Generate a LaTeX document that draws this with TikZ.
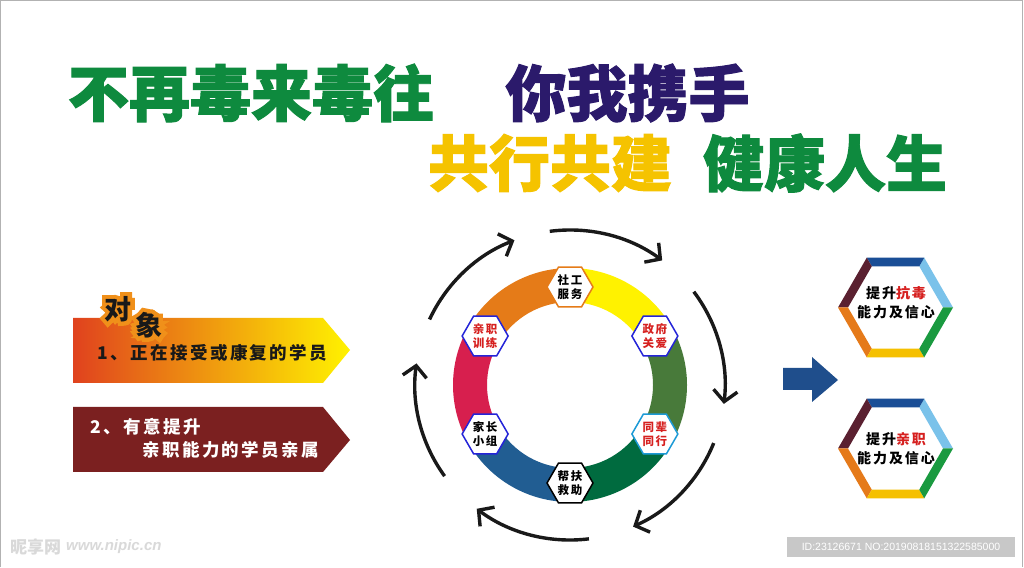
\documentclass[tikz,border=0pt]{standalone}
\usepackage{fontspec}
\setmainfont{Liberation Sans}
\newfontfamily\cjk{Noto Sans CJK SC}
\newfontfamily\cjkt{Noto Sans CJK SC}[BoldFeatures={FakeBold=1.6}]
\newfontfamily\cjkglow{Noto Sans CJK SC}[BoldFeatures={FakeBold=30}]
\newfontfamily\cjkls{Noto Sans CJK SC}[LetterSpace=14]
\usetikzlibrary{arrows.meta,shapes.geometric,calc}
\definecolor{tgreen}{HTML}{0E8A3E}
\definecolor{tpurple}{HTML}{2B1A6B}
\definecolor{tyellow}{HTML}{F5C300}
\definecolor{ryellow}{HTML}{FFF200}
\definecolor{rgreenA}{HTML}{487A3A}
\definecolor{rgreenB}{HTML}{006B3F}
\definecolor{rblue}{HTML}{215D92}
\definecolor{rred}{HTML}{D71F4E}
\definecolor{rorange}{HTML}{E57B18}
\definecolor{hblue}{HTML}{2424D8}
\definecolor{hlblue}{HTML}{1C9AD6}
\definecolor{tred}{HTML}{D6201F}
\definecolor{hnavy}{HTML}{1A4E96}
\definecolor{hsky}{HTML}{7AC2EA}
\definecolor{hgreen}{HTML}{1A9A40}
\definecolor{hyel}{HTML}{F5C000}
\definecolor{hora}{HTML}{E57A1A}
\definecolor{hmar}{HTML}{5A2030}
\definecolor{barrow}{HTML}{1F4E8C}
\definecolor{bred}{HTML}{7B2020}
\definecolor{glow}{HTML}{F0901A}
\definecolor{bleft}{HTML}{E0421E}
\definecolor{bmid}{HTML}{F0A018}
\definecolor{idgray}{HTML}{C8C8C8}
\tikzset{
  title/.style={inner sep=0pt, font=\cjkt\bfseries\fontsize{61}{63}\selectfont},
  hexr/.style={regular polygon, regular polygon sides=6, minimum size=46pt, inner sep=0pt, fill=white, line width=1.5pt},
  hext/.style={inner sep=0pt, align=center, font=\cjkls\bfseries\fontsize{11.5}{13.5}\selectfont},
  rtext/.style={inner sep=0pt, align=center, font=\cjkls\bfseries\fontsize{14}{19}\selectfont},
  btext/.style={inner sep=0pt, anchor=west, font=\cjkls\bfseries\fontsize{17.5}{20}\selectfont},
  cyc/.style={line width=3.4pt, black!90, -{Straight Barb[length=11pt,width=24pt]}},
  dx/.style={inner sep=0pt, font=\cjk\bfseries\fontsize{27}{27}\selectfont},
  dxglow/.style={inner sep=0pt, text=glow, font=\cjkglow\bfseries\fontsize{27}{27}\selectfont}
}
\begin{document}
\begin{tikzpicture}[x=1pt,y=1pt]
\useasboundingbox (0,0) rectangle (1024,567);
\fill[white] (0,0) rectangle (1024,567);
\draw[gray!60, line width=1pt] (0.5,0) -- (0.5,566.5) -- (1022,566.5) -- (1022,0);

% titles
\node[title, text=tgreen] (t1) at (251,474) {不再毒来毒往};
\node[title, text=tpurple] (t2) at (627.5,474) {你我携手};
\node[title, text=tyellow] (t3) at (550,404) {共行共建};
\node[title, text=tgreen] (t4) at (825,404) {健康人生};

% left banners
\shade[left color=bleft, middle color=bmid, right color=ryellow]
  (73,249) -- (323,249) -- (350,217) -- (323,184) -- (73,184) -- cycle;
\fill[bred] (73,160) -- (323,160) -- (350,127) -- (323,95) -- (73,95) -- cycle;
\node[dxglow] (duig) at (118,258) {对};
\node[dxglow] (xiangg) at (149,242) {象};
\node[dx, text=black!90] (dui) at (118,258) {对};
\node[dx, text=black!90] (xiang) at (149,242) {象};
\node[btext, text=black!90] (b1) at (97,214) {1、正在接受或康复的学员};
\node[btext, text=white] (b2) at (90,140) {2、有意提升};
\node[btext, text=white] (b3) at (142,117) {亲职能力的学员亲属};

% ring
\coordinate (rc) at (570,182);
\foreach \a/\b/\c in {90/30/ryellow, 30/-30/rgreenA, -30/-90/rgreenB, -90/-150/rblue, -150/-210/rred, 150/90/rorange}
  \fill[\c] ([shift={(rc)}]\a:117) arc[start angle=\a, end angle=\b, radius=117]
     -- ([shift={(rc)}]\b:83) arc[start angle=\b, end angle=\a, radius=83] -- cycle;
\foreach \s in {97.5,37,-22,-83,-144,-205}
  \draw[cyc] ([shift={(rc)}]\s:155) arc[start angle=\s, end angle={\s-44}, radius=155];

\node[hexr, draw=rorange] (sg) at ([shift={(rc)}]90:98) {};
\node[hexr, draw=hblue] (zf) at ([shift={(rc)}]30:98) {};
\node[hexr, draw=hlblue] (tb) at ([shift={(rc)}]-30:98) {};
\node[hexr, draw=black] (bf) at ([shift={(rc)}]-90:98) {};
\node[hexr, draw=hblue] (jz) at ([shift={(rc)}]-150:98) {};
\node[hexr, draw=hblue] (qz) at ([shift={(rc)}]150:98) {};
\node[hext, text=black] at (sg) {社工\\服务};
\node[hext, text=tred] at (zf) {政府\\关爱};
\node[hext, text=tred] at (tb) {同辈\\同行};
\node[hext, text=black] at (bf) {帮扶\\救助};
\node[hext, text=black] at (jz) {家长\\小组};
\node[hext, text=tred] at (qz) {亲职\\训练};

% blue arrow
\fill[barrow] (783,199) -- (812,199) -- (812,210) -- (838,187) -- (812,165) -- (812,177) -- (783,177) -- cycle;

% right hexagons
\coordinate (hA) at (895.5,259.5);
\coordinate (hB) at (895.5,118.5);
\foreach \h in {hA,hB}
  \foreach \p/\q/\c in {0/60/hsky,60/120/hnavy,120/180/hmar,180/240/hora,240/300/hyel,300/360/hgreen}
    \fill[\c] ([shift={(\h)}]\p:57.5) -- ([shift={(\h)}]\q:57.5) -- ([shift={(\h)}]\q:47.5) -- ([shift={(\h)}]\p:47.5) -- cycle;
\node[rtext] (rA) at (896,264.5) {提升\textcolor{tred}{抗毒}\\能力及信心};
\node[rtext] (rB) at (896,118) {提升\textcolor{tred}{亲职}\\能力及信心};

% watermark
\node[inner sep=0pt, anchor=west, text=gray!30, font=\cjk\bfseries\fontsize{17}{17}\selectfont] (wm) at (10,20) {昵享网};
\node[inner sep=0pt, anchor=west, text=gray!30, font=\itshape\bfseries\fontsize{15}{15}\selectfont] (wm2) at (66,20) {www.nipic.cn};
\node[fill=idgray, text=white, inner sep=0pt, minimum width=228pt, minimum height=20pt, font=\fontsize{10.5}{12}\selectfont] (id) at (901,20) {ID:23126671 NO:20190818151322585000};
\end{tikzpicture}
\end{document}
